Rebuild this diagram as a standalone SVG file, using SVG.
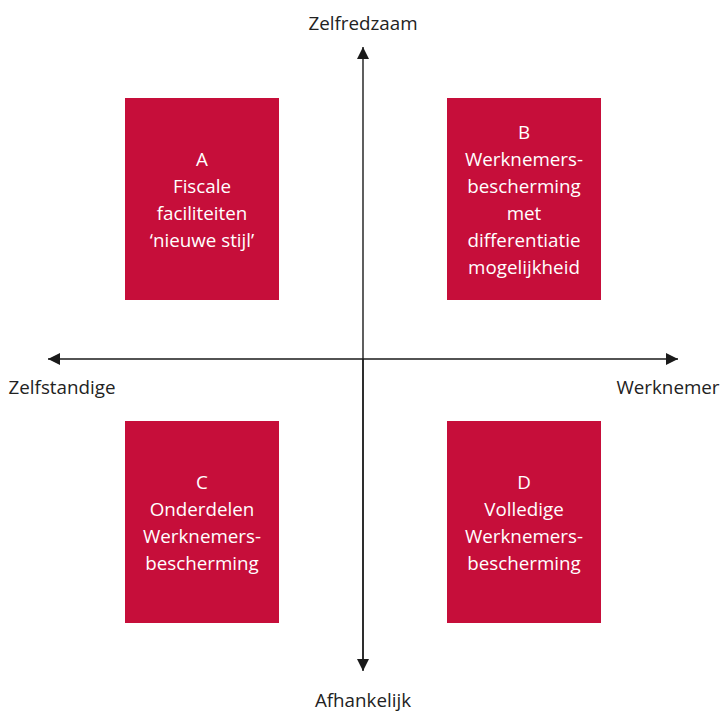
<svg xmlns="http://www.w3.org/2000/svg" width="723" height="714" viewBox="0 0 723 714">
  <style>
    .box { fill: #C60E3A; }
    .in { font-family: "Open Sans", Lato, "Liberation Sans", sans-serif; font-size: 18.8px; fill: #ffffff; text-anchor: middle; }
    .lbl { font-family: "Open Sans", Lato, "Liberation Sans", sans-serif; font-size: 18.8px; fill: #222222; text-anchor: middle; }
    .axis { stroke: #1a1a1a; stroke-width: 1.4; fill: none; }
  </style>
  <defs>
    <marker id="head" viewBox="0 0 12 12" refX="12" refY="6" markerWidth="12" markerHeight="12" markerUnits="userSpaceOnUse" orient="auto">
      <path d="M0,0 L12,6 L0,12 Z" fill="#1a1a1a"/>
    </marker>
  </defs>
  <rect width="723" height="714" fill="#ffffff"/>

  <g id="connectors">
    <line class="axis" x1="363" y1="670" x2="363" y2="47" marker-end="url(#head)"/>
    <line class="axis" x1="363" y1="359" x2="363" y2="671" marker-end="url(#head)"/>
    <line class="axis" x1="363" y1="359" x2="48" y2="359" marker-end="url(#head)"/>
    <line class="axis" x1="363" y1="359" x2="678" y2="359" marker-end="url(#head)"/>
  </g>

  <g id="axis-labels">
    <text class="lbl" x="363" y="30">Zelfredzaam</text>
    <text class="lbl" x="62" y="394">Zelfstandige</text>
    <text class="lbl" x="668" y="394">Werknemer</text>
    <text class="lbl" x="363" y="707">Afhankelijk</text>
  </g>

  <g id="node-a">
    <rect class="box" x="125" y="98" width="154" height="202"/>
    <text class="in" x="202" y="166">A</text>
    <text class="in" x="202" y="193">Fiscale</text>
    <text class="in" x="202" y="220">faciliteiten</text>
    <text class="in" x="202" y="247">‘nieuwe stijl’</text>
  </g>

  <g id="node-b">
    <rect class="box" x="447" y="98" width="154" height="202"/>
    <text class="in" x="524" y="139">B</text>
    <text class="in" x="524" y="166">Werknemers-</text>
    <text class="in" x="524" y="193">bescherming</text>
    <text class="in" x="524" y="220">met</text>
    <text class="in" x="524" y="247">differentiatie</text>
    <text class="in" x="524" y="274">mogelijkheid</text>
  </g>

  <g id="node-c">
    <rect class="box" x="125" y="421" width="154" height="202"/>
    <text class="in" x="202" y="489">C</text>
    <text class="in" x="202" y="516">Onderdelen</text>
    <text class="in" x="202" y="543">Werknemers-</text>
    <text class="in" x="202" y="570">bescherming</text>
  </g>

  <g id="node-d">
    <rect class="box" x="447" y="421" width="154" height="202"/>
    <text class="in" x="524" y="489">D</text>
    <text class="in" x="524" y="516">Volledige</text>
    <text class="in" x="524" y="543">Werknemers-</text>
    <text class="in" x="524" y="570">bescherming</text>
  </g>
</svg>
